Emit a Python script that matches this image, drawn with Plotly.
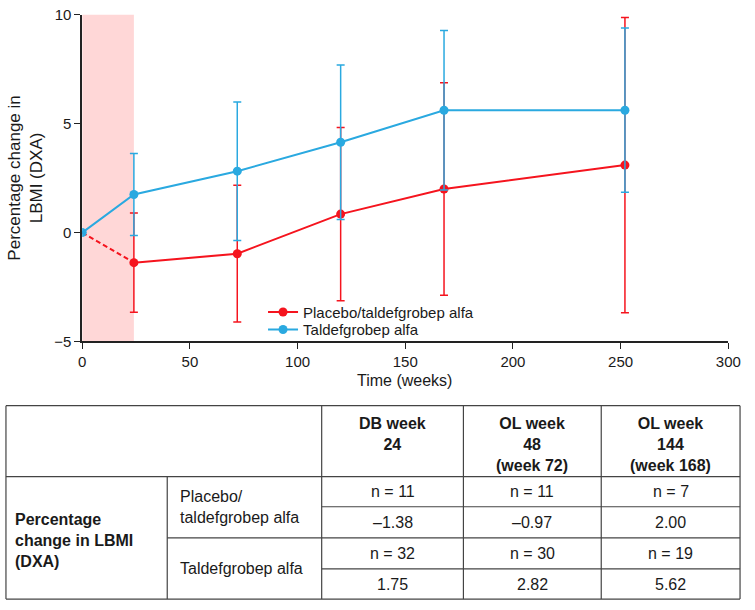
import plotly.graph_objects as go

# weeks from start of the study
weeks = [0, 24, 72, 120, 168, 252]

placebo_mean = [0, -1.38, -0.97, 0.85, 2.00, 3.10]
placebo_err = [0, 2.28, 3.14, 3.98, 4.88, 6.78]

taldef_mean = [0, 1.75, 2.82, 4.15, 5.62, 5.62]
taldef_err = [0, 1.88, 3.18, 3.55, 3.66, 3.77]

# table under the chart
col_headers = ["DB week<br>24", "OL week<br>48<br>(week 72)", "OL week<br>144<br>(week 168)"]
row_group = "Percentage<br>change in LBMI<br>(DXA)"
row_labels = ["Placebo/<br>taldefgrobep alfa", "Taldefgrobep alfa"]
placebo_n = [11, 11, 7]
placebo_vals = ["\u20131.38", "\u20130.97", "2.00"]
taldef_n = [32, 30, 19]
taldef_vals = ["1.75", "2.82", "5.62"]

RED = "#f5141e"
BLUE = "#2aa9e0"
FONT = "Liberation Sans, Arial, sans-serif"
TXT = "#1a1a1a"

W, H = 755, 610


def px(x):
    return x / W


def py(y):
    return 1 - y / H


fig = go.Figure()

# dashed segment baseline -> week 24 for placebo
fig.add_trace(go.Scatter(
    x=weeks[:2], y=placebo_mean[:2], mode="lines",
    line=dict(color=RED, width=2, dash="5px,3px"), showlegend=False, hoverinfo="skip"))

fig.add_trace(go.Scatter(
    x=weeks[1:], y=placebo_mean[1:], mode="lines+markers", name="Placebo/taldefgrobep alfa",
    line=dict(color=RED, width=2), marker=dict(color=RED, size=9), legend="legend",
    error_y=dict(type="data", array=placebo_err[1:], color=RED, thickness=1.5, width=4)))

fig.add_trace(go.Scatter(
    x=weeks, y=taldef_mean, mode="lines+markers", name="Taldefgrobep alfa",
    line=dict(color=BLUE, width=2), marker=dict(color=BLUE, size=9), legend="legend2",
    error_y=dict(type="data", array=taldef_err, color=BLUE, thickness=1.5, width=4)))

# double-blind period shading
fig.add_shape(type="rect", xref="x", yref="y domain", x0=0, x1=24, y0=0, y1=1,
              fillcolor="#ffd7d7", line_width=0, layer="below")

line_style = dict(color="#444", width=1.2)
# table grid (pixel positions)
L, R, T, B = 2, 753, 408, 607
c1, c2, c3, c4 = 167, 325, 470, 611
r_head, r1, r_mid, r3 = 481, 512, 544, 576
for (x0, y0, x1, y1) in [
    (L, T, R, T), (L, B, R, B), (L, T, L, B), (R, T, R, B),
    (L, r_head, R, r_head), (c1, r_mid, R, r_mid),
    (c2, r1, R, r1), (c2, r3, R, r3),
    (c1, r_head, c1, B), (c2, T, c2, B), (c3, T, c3, B), (c4, T, c4, B)]:
    fig.add_shape(type="line", xref="paper", yref="paper",
                  x0=px(x0), y0=py(y0), x1=px(x1), y1=py(y1), line=line_style)

ann = []
col_centers = [(c2 + c3) / 2, (c3 + c4) / 2, (c4 + R) / 2]
for cx, hdr in zip(col_centers, col_headers):
    ann.append(dict(x=px(cx), y=py(416), text="<b>" + hdr + "</b>", yanchor="top"))
for cx, n, v, n2, v2 in zip(col_centers, placebo_n, placebo_vals, taldef_n, taldef_vals):
    ann.append(dict(x=px(cx), y=py((r_head + r1) / 2), text=f"n = {n}"))
    ann.append(dict(x=px(cx), y=py((r1 + r_mid) / 2), text=v))
    ann.append(dict(x=px(cx), y=py((r_mid + r3) / 2), text=f"n = {n2}"))
    ann.append(dict(x=px(cx), y=py((r3 + B) / 2), text=v2))
ann.append(dict(x=px(9), y=py(547), text="<b>" + row_group + "</b>", xanchor="left", align="left"))
ann.append(dict(x=px(178), y=py((r_head + r_mid) / 2), text=row_labels[0], xanchor="left",
                align="left"))
ann.append(dict(x=px(178), y=py((r_mid + B) / 2), text=row_labels[1], xanchor="left",
                align="left"))

# axis titles
ann.append(dict(x=px(22), y=py(174), text="Percentage change in<br>LBMI (DXA)", textangle=-90,
                font=dict(size=17)))
ann.append(dict(x=px(410), y=py(382), text="Time (weeks)"))

for a in ann:
    a.setdefault("xref", "paper")
    a.setdefault("yref", "paper")
    a.setdefault("xanchor", "center")
    a.setdefault("yanchor", "middle")
    a.setdefault("align", "center")
    a.setdefault("showarrow", False)
    a.setdefault("font", dict(size=16))
    fig.add_annotation(**a)

leg = dict(xanchor="left", yanchor="middle", bgcolor="rgba(0,0,0,0)", font=dict(size=15),
           borderwidth=0)
fig.update_layout(
    width=W, height=H, margin=dict(l=0, r=0, t=0, b=0),
    paper_bgcolor="white", plot_bgcolor="white",
    font=dict(family=FONT, color=TXT, size=15),
    showlegend=True,
    legend=dict(x=px(265), y=py(312), **leg),
    legend2=dict(x=px(265), y=py(330), **leg),
    xaxis=dict(domain=[px(80), px(741)], range=[0, 300], tickvals=[0, 50, 100, 150, 200, 250, 300],
               showgrid=False, zeroline=False, showline=True, linecolor="#222", linewidth=1.5,
               ticks="outside", ticklen=6, tickcolor="#222", tickfont=dict(size=15),
               ticklabeloverflow="allow"),
    yaxis=dict(domain=[py(342), py(6)], range=[-5, 10], tickvals=[-5, 0, 5, 10],
               tickformat="d", showgrid=False, zeroline=False, showline=True, linecolor="#222",
               linewidth=1.5, ticks="outside", ticklen=6, tickcolor="#222", tickfont=dict(size=15),
               ticklabeloverflow="allow"),
)

# drop the default body margin right away (not in the async .then) so the
# 755x610 figure fills the window exactly
no_margin = "}); document.body.style.margin = '0px'; (function(){"
fig.write_html("out.html", post_script=no_margin, config={"displayModeBar": False})
